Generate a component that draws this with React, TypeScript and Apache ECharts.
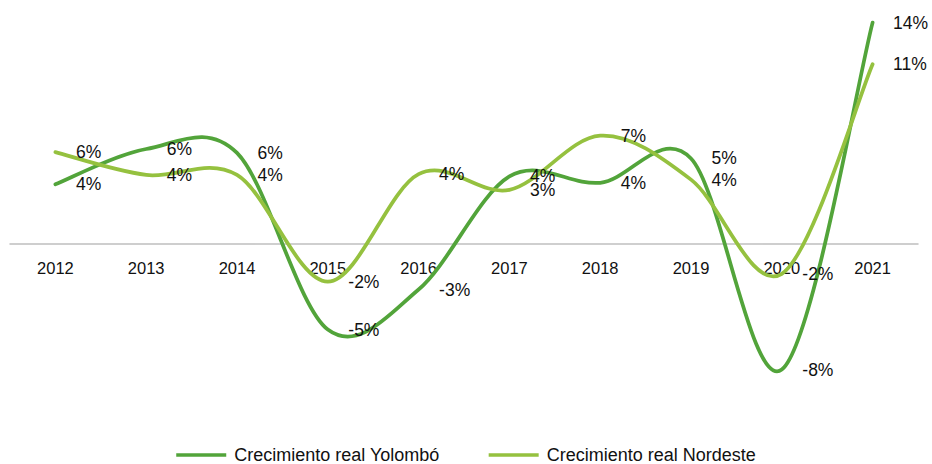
import React, { useEffect, useRef } from "react";
import * as echarts from "echarts";

const years = ["2012", "2013", "2014", "2015", "2016", "2017", "2018", "2019", "2020", "2021"];
const yolombo = [3.8, 6.05, 5.8, -5.45, -2.9, 4.3, 3.9, 5.45, -8.0, 14.1];
const nordeste = [5.85, 4.4, 4.4, -2.4, 4.45, 3.45, 6.9, 4.1, -1.9, 11.45];
const seriesNames = ["Crecimiento real Yolombó", "Crecimiento real Nordeste"];

const DARK = "#52A43A";
const LIGHT = "#95C13F";
const FONT = "'Liberation Sans', Arial, sans-serif";

// Catmull-Rom style smoothing (like spreadsheet "smoothed line")
function smoothPath(pts: number[][]): string {
  if (!pts.length) return "";
  let d = `M${pts[0][0]},${pts[0][1]}`;
  for (let i = 0; i < pts.length - 1; i++) {
    const p0 = pts[Math.max(0, i - 1)];
    const p1 = pts[i];
    const p2 = pts[i + 1];
    const p3 = pts[Math.min(pts.length - 1, i + 2)];
    const c1x = p1[0] + (p2[0] - p0[0]) / 6;
    const c1y = p1[1] + (p2[1] - p0[1]) / 6;
    const c2x = p2[0] - (p3[0] - p1[0]) / 6;
    const c2y = p2[1] - (p3[1] - p1[1]) / 6;
    d += ` C${c1x},${c1y} ${c2x},${c2y} ${p2[0]},${p2[1]}`;
  }
  return d;
}

export default function App() {
  const ref = useRef<HTMLDivElement>(null);
  useEffect(() => {
    if (!ref.current) return;
    const chart = echarts.init(ref.current, null, { renderer: "svg" });
    const label = {
      show: true,
      position: "right",
      distance: 20,
      fontSize: 17.5,
      fontFamily: FONT,
      color: "#111",
      formatter: (p: any) => Math.round(p.value) + "%",
    };
    const labelSeries = (name: string, data: number[], z: number) => ({
      name,
      type: "line",
      data,
      symbol: "circle",
      symbolSize: 1,
      showSymbol: true,
      lineStyle: { opacity: 0 },
      itemStyle: { color: "rgba(0,0,0,0)", borderWidth: 0 },
      label,
      labelLayout: { hideOverlap: false },
      z,
    });
    const curveSeries = (id: string, data: number[], color: string, z: number) => ({
      id,
      name: id,
      type: "custom",
      data: data.map((v, i) => [i, v]),
      clip: false,
      z,
      silent: true,
      renderItem: (params: any, api: any) => {
        if (params.dataIndex !== 0) return null;
        const pts = data.map((v, i) => api.coord([i, v]));
        return {
          type: "path",
          shape: { pathData: smoothPath(pts) },
          style: { fill: "none", stroke: color, lineWidth: 3.75, lineCap: "round", lineJoin: "round" },
        };
      },
    });
    chart.setOption({
      animation: false,
      grid: { left: 10, right: 14, top: 8.5, bottom: 63, containLabel: false },
      xAxis: {
        type: "category",
        data: years,
        boundaryGap: true,
        offset: -157,
        axisLine: { onZero: false, lineStyle: { color: "#BFBFBF", width: 1.5 } },
        axisTick: { show: false },
        axisLabel: { fontSize: 16.5, fontFamily: FONT, color: "#111", margin: 15 },
      },
      yAxis: {
        type: "value",
        min: -10,
        max: 15,
        show: false,
        splitLine: { show: false },
      },
      legend: {
        top: 446,
        padding: 0,
        left: "center",
        itemWidth: 50,
        itemHeight: 3.5,
        itemGap: 49,
        icon: "rect",
        textStyle: { fontSize: 18, fontFamily: FONT, color: "#111", padding: [0, 0, 0, 3] },
        data: [
          { name: seriesNames[0], itemStyle: { color: DARK, opacity: 1 } },
          { name: seriesNames[1], itemStyle: { color: LIGHT, opacity: 1 } },
        ],
      },
      series: [
        curveSeries("curveYolombo", yolombo, DARK, 2),
        curveSeries("curveNordeste", nordeste, LIGHT, 3),
        labelSeries(seriesNames[0], yolombo, 4),
        labelSeries(seriesNames[1], nordeste, 4),
      ],
    });
    return () => chart.dispose();
  }, []);
  return (
    <div
      ref={ref}
      style={{ position: "absolute", left: 0, top: 0, width: 932, height: 464, background: "#fff" }}
    />
  );
}
